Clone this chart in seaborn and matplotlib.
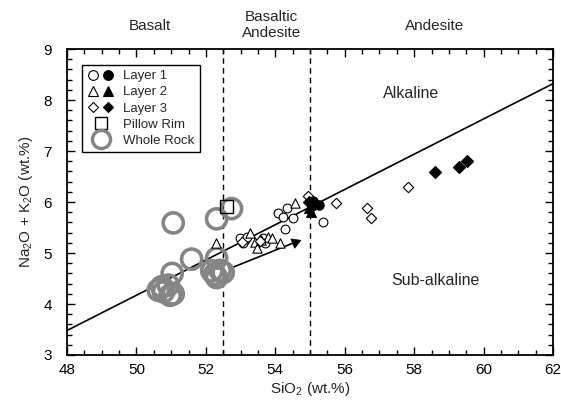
import numpy as np
import pandas as pd
import matplotlib
matplotlib.use("Agg")
import matplotlib.pyplot as plt
import seaborn as sns
from matplotlib.legend_handler import HandlerTuple
from matplotlib.lines import Line2D

# ---- data ----
l1_open_x = [52.98, 53.13, 53.07, 53.19, 53.65, 53.70, 54.08, 54.34, 54.22, 54.51, 54.28, 55.38]
l1_open_y = [5.29, 5.25, 5.19, 5.31, 5.29, 5.19, 5.79, 5.89, 5.70, 5.68, 5.48, 5.60]
l1_fill_x = [55.05, 55.15, 55.25, 55.10]
l1_fill_y = [5.92, 5.97, 5.95, 6.02]

l2_open_x = [52.29, 53.27, 53.42, 53.48, 53.79, 53.91, 54.14, 54.57, 53.60]
l2_open_y = [5.19, 5.40, 5.21, 5.09, 5.31, 5.29, 5.19, 5.98, 5.25]
l2_fill_x = [55.02, 54.97]
l2_fill_y = [5.80, 5.88]

l3_open_x = [53.05, 53.55, 54.95, 55.76, 56.64, 56.76, 57.82]
l3_open_y = [5.21, 5.24, 6.11, 5.98, 5.89, 5.68, 6.29]
l3_fill_x = [54.98, 58.60, 59.29, 59.52]
l3_fill_y = [6.00, 6.58, 6.68, 6.80]

pillow_x = [52.60]
pillow_y = [5.91]

whole_x = [51.06, 52.31, 52.74, 51.59, 52.31, 52.17, 52.41, 52.31, 52.50, 52.25,
           51.03, 50.73, 50.78, 50.97, 51.06, 50.63, 50.92]
whole_y = [5.59, 5.67, 5.87, 4.88, 4.90, 4.65, 4.66, 4.52, 4.62, 4.58,
           4.60, 4.34, 4.24, 4.17, 4.20, 4.27, 4.37]

alk_line_x = [48.0, 62.0]
alk_line_y = [3.48, 8.32]

trend_x = [52.74, 54.57]
trend_y = [4.71, 5.21]

boundaries = [52.5, 55.0]

# ---- style ----
sns.set_style("ticks")
plt.rcParams['font.family'] = ['Liberation Sans', 'DejaVu Sans']
plt.rcParams['mathtext.default'] = 'regular'

fig = plt.figure(figsize=(5.61, 4.04), dpi=100)
ax = fig.add_axes([67/561, 1-355/404, (553-67)/561, (355-49)/404])

GRAY = '#858585'

for b in boundaries:
    ax.axvline(b, color='black', lw=1.0, ls=(0, (4, 3)), zorder=1)

ax.plot(alk_line_x, alk_line_y, color='black', lw=1.2, zorder=2)
ax.plot(trend_x, trend_y, color='black', lw=1.2, zorder=2)

def sc(x, y, marker, fc, ec, s, lw, z=3):
    df = pd.DataFrame({'x': x, 'y': y})
    sns.scatterplot(data=df, x='x', y='y', marker=marker, s=s, facecolor=fc,
                    edgecolor=ec, linewidth=lw, ax=ax, zorder=z, legend=False)

sc(whole_x, whole_y, 'o', 'none', GRAY, 210, 2.6, 2)
sc(l1_open_x, l1_open_y, 'o', 'white', 'black', 40, 0.8)
sc(l2_open_x, l2_open_y, '^', 'white', 'black', 45, 0.8)
sc(l3_open_x, l3_open_y, 'D', 'white', 'black', 28, 0.8)
sc(l1_fill_x, l1_fill_y, 'o', 'black', 'black', 45, 0.8, 4)
sc(l2_fill_x, l2_fill_y, '^', 'black', 'black', 50, 0.8, 4)
sc(l3_fill_x, l3_fill_y, 'D', 'black', 'black', 38, 0.8, 4)
sc(pillow_x, pillow_y, 's', 'none', 'black', 80, 1.0, 5)
# arrowhead at end of trend line
sc([trend_x[-1]], [trend_y[-1]], (3, 0, -68), 'black', 'black', 70, 0.5, 5)

ax.set_xlim(48, 62)
ax.set_ylim(3, 9)
ax.set_xticks(np.arange(48, 62.1, 2))
ax.set_yticks(np.arange(3, 9.1, 1))
ax.set_xticks(np.arange(48, 62.01, 0.5), minor=True)
ax.set_yticks(np.arange(3, 9.01, 0.2), minor=True)
ax.tick_params(which='both', direction='in', top=True, right=True, colors='black',
               labelsize=11, width=1.0)
ax.tick_params(which='major', length=6)
ax.tick_params(which='minor', length=3.5)
ax.tick_params(axis='y', which='major', pad=11)
ax.tick_params(axis='x', which='major', pad=6)
for sp in ax.spines.values():
    sp.set_linewidth(1.3)
    sp.set_color('black')

ax.set_xlabel('SiO$_2$ (wt.%)', fontsize=11, labelpad=2)
ax.set_ylabel('Na$_2$O + K$_2$O (wt.%)', fontsize=11, labelpad=6)

# region labels
ax.text(50.4, 9.45, 'Basalt', ha='center', va='center', fontsize=11)
ax.text(53.9, 9.47, 'Basaltic\nAndesite', ha='center', va='center', fontsize=11,
        linespacing=1.15)
ax.text(58.6, 9.45, 'Andesite', ha='center', va='center', fontsize=11)
ax.text(57.9, 8.12, 'Alkaline', ha='center', va='center', fontsize=11.5)
ax.text(58.6, 4.47, 'Sub-alkaline', ha='center', va='center', fontsize=11.5)

# legend
h1o = Line2D([], [], ls='none', marker='o', mfc='white', mec='black', ms=7, mew=0.8)
h1f = Line2D([], [], ls='none', marker='o', mfc='black', mec='black', ms=7, mew=0.8)
h2o = Line2D([], [], ls='none', marker='^', mfc='white', mec='black', ms=7, mew=0.8)
h2f = Line2D([], [], ls='none', marker='^', mfc='black', mec='black', ms=7, mew=0.8)
h3o = Line2D([], [], ls='none', marker='D', mfc='white', mec='black', ms=5.5, mew=0.8)
h3f = Line2D([], [], ls='none', marker='D', mfc='black', mec='black', ms=5.5, mew=0.8)
hp = Line2D([], [], ls='none', marker='s', mfc='none', mec='black', ms=9, mew=1.0)
hw = Line2D([], [], ls='none', marker='o', mfc='none', mec=GRAY, ms=13, mew=2.5)
leg = ax.legend([(h1o, h1f), (h2o, h2f), (h3o, h3f), hp, hw],
                ['Layer 1', 'Layer 2', 'Layer 3', 'Pillow Rim', 'Whole Rock'],
                handler_map={tuple: HandlerTuple(ndivide=None, pad=0.3)},
                loc='upper left', bbox_to_anchor=(0.018, 0.97), fontsize=9.5,
                frameon=True, fancybox=False, edgecolor='black', framealpha=1,
                handlelength=2.0, handletextpad=0.7, labelspacing=0.3,
                borderpad=0.4)
leg.get_frame().set_linewidth(1.0)

fig.savefig('out.png', dpi=100)
